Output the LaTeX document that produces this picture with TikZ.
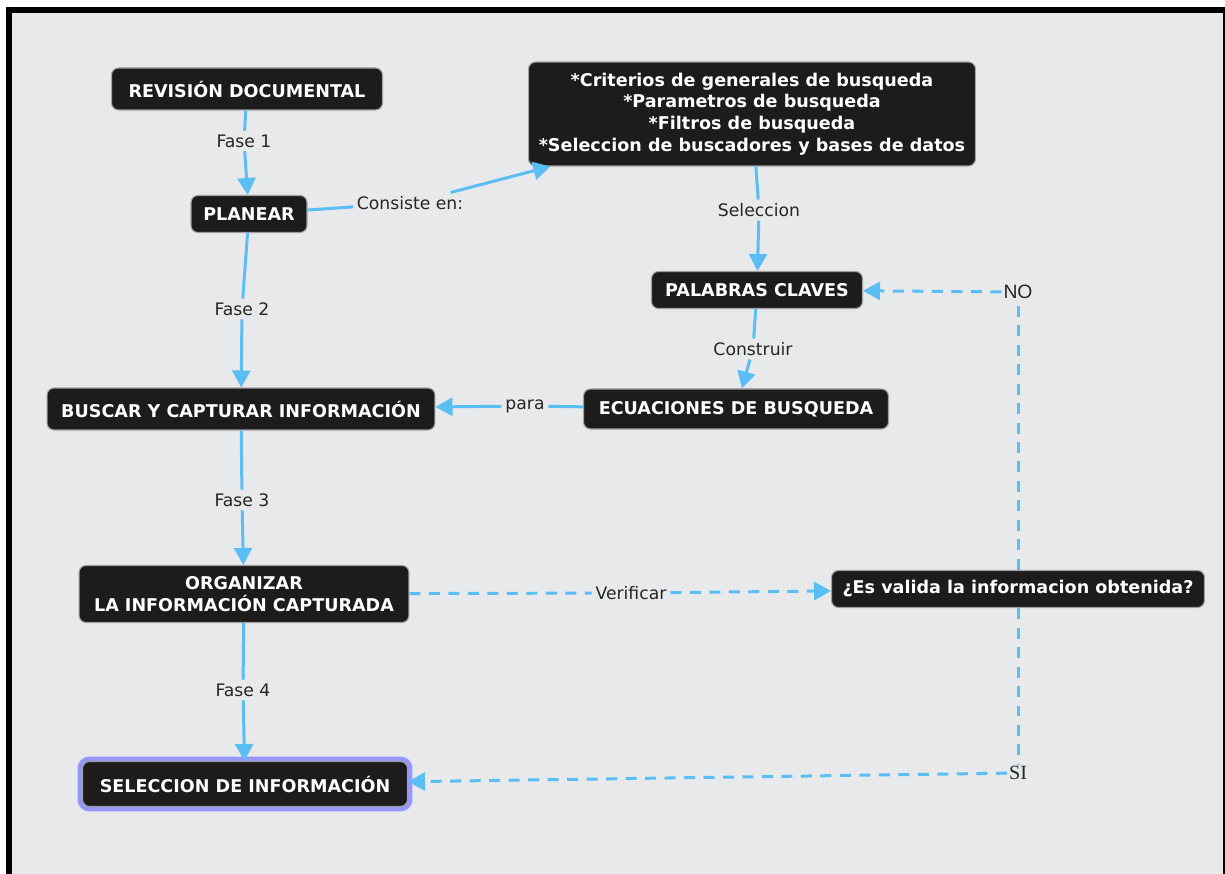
\documentclass[tikz,border=0pt]{standalone}
\usepackage{fontspec}
\setmainfont{DejaVu Sans}
\newfontfamily\sifont{Liberation Serif}
\newfontfamily\nofont{Liberation Sans}
\usetikzlibrary{arrows.meta}
\definecolor{mapbg}{RGB}{232,233,235}
\definecolor{conceptfill}{RGB}{29,27,28}
\definecolor{linkblue}{RGB}{90,190,245}
\definecolor{selring}{RGB}{150,150,252}
\tikzstyle{concept}=[rectangle, rounded corners=4pt, fill=conceptfill, draw=gray!75, line width=0.6pt, text=white, font=\fontsize{10}{12.3}\selectfont\bfseries, align=center, inner sep=0pt]
\tikzstyle{phrase}=[inner sep=2pt, font=\fontsize{9.8}{12}\selectfont, text=black!85]
\tikzstyle{link}=[draw=linkblue, line width=1.7pt]
\tikzstyle{linkto}=[link, -{Triangle[length=0.34cm, width=0.36cm]}]
\tikzstyle{dashlink}=[dash pattern=on 0.22cm off 0.17cm]
\newcommand{\concept}{\node[concept]}
\newcommand{\phrase}{\node[phrase]}

\begin{document}
\begin{tikzpicture}[x=0.02cm, y=-0.02cm]
\useasboundingbox (0,0) rectangle (1225,874);
\fill[white] (0,0) rectangle (1225,874);
\fill[black] (6,7) rectangle (1225,874);
\fill[mapbg] (12,13) rectangle (1223,874);

\concept (rev) at (247,89)[minimum width=5.42cm, minimum height=0.84cm]{REVISIÓN DOCUMENTAL};
\concept (crit) at (752,114)[minimum width=8.94cm, minimum height=2.08cm]{*Criterios de generales de busqueda\\*Parametros de busqueda\\*Filtros de busqueda\\*Seleccion de buscadores y bases de datos};
\concept (plan) at (249,214)[minimum width=2.32cm, minimum height=0.74cm]{PLANEAR};
\concept (pal) at (757,290)[minimum width=4.22cm, minimum height=0.74cm]{PALABRAS CLAVES};
\concept (busc) at (241,409)[minimum width=7.76cm, minimum height=0.84cm]{BUSCAR Y CAPTURAR INFORMACIÓN};
\concept (ecu) at (736,409)[minimum width=6.1cm, minimum height=0.8cm]{ECUACIONES DE BUSQUEDA};
\concept (org) at (244,594)[minimum width=6.6cm, minimum height=1.14cm]{ORGANIZAR\\LA INFORMACIÓN CAPTURADA};
\concept (val) at (1018,589)[minimum width=7.46cm, minimum height=0.74cm]{¿Es valida la informacion obtenida?};
\concept (sel) at (245,784)[minimum width=6.5cm, minimum height=0.9cm, preaction={draw=selring, line width=0.2cm}]{SELECCION DE INFORMACIÓN};

\phrase (f1) at (244,141){Fase 1};
\phrase (cons) at (410,203){Consiste en:};
\phrase (selc) at (759,210){Seleccion};
\phrase (f2) at (242,309){Fase 2};
\phrase (cons2) at (753,349){Construir};
\phrase (para) at (525,406){para};
\phrase (f3) at (242,500){Fase 3};
\phrase (verif) at (631,593){Verificar};
\phrase (f4) at (243,690){Fase 4};
\phrase (no) at (1018,292)[inner sep=1pt, font=\fontsize{11}{12}\selectfont]{\nofont NO};
\phrase (si) at (1018,773)[inner sep=1pt, font=\fontsize{11.5}{12}\selectfont]{\sifont SI};

\draw[link] (rev)--(f1);
\draw[linkto] (f1)--(plan);
\draw[link] (plan)--(cons);
\draw[linkto] (cons)--(crit);
\draw[link] (crit)--(selc);
\draw[linkto] (selc)--(pal);
\draw[link] (plan)--(f2);
\draw[linkto] (f2)--(busc);
\draw[link] (pal)--(cons2);
\draw[linkto] (cons2)--(ecu);
\draw[link] (ecu)--(para);
\draw[linkto] (para)--(busc);
\draw[link] (busc)--(f3);
\draw[linkto] (f3)--(org);
\draw[link, dashlink] (org)--(verif);
\draw[linkto, dashlink] (verif)--(val);
\draw[link] (org)--(f4);
\draw[linkto] (f4)--(sel);
\draw[link, dashlink] (val)--(no);
\draw[linkto, dashlink] (no)--(pal);
\draw[link, dashlink] (val)--(si);
\draw[linkto, dashlink] (si)--(sel);
\end{tikzpicture}
\end{document}
